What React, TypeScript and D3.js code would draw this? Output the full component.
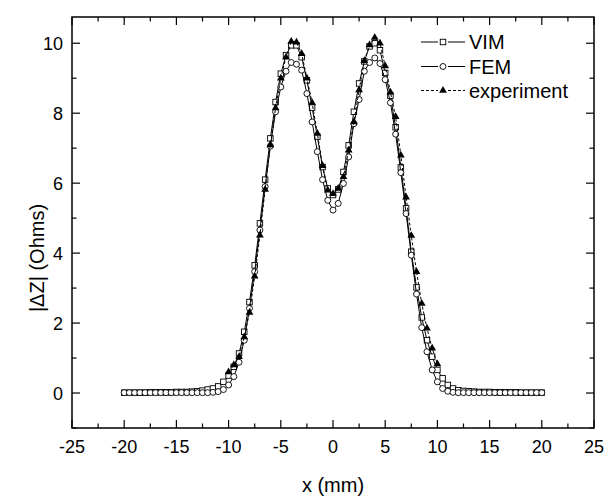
import React, { useEffect, useRef } from "react";
import * as d3 from "d3";

const xGrid = [-20,-19.5,-19,-18.5,-18,-17.5,-17,-16.5,-16,-15.5,-15,-14.5,-14,-13.5,-13,-12.5,-12,-11.5,-11,-10.5,-10,-9.5,-9,-8.5,-8,-7.5,-7,-6.5,-6,-5.5,-5,-4.5,-4,-3.5,-3,-2.5,-2,-1.5,-1,-0.5,0,0.5,1,1.5,2,2.5,3,3.5,4,4.5,5,5.5,6,6.5,7,7.5,8,8.5,9,9.5,10,10.5,11,11.5,12,12.5,13,13.5,14,14.5,15,15.5,16,16.5,17,17.5,18,18.5,19,19.5,20];

const vimValues = [
  0.01,0.01,0.01,0.01,0.01,0.02,0.02,0.02,0.02,0.02,0.03,0.03,0.03,
  0.04,0.05,0.07,0.10,0.13,0.19,0.32,0.50,0.75,1.13,1.75,2.60,3.65,4.85,6.10,7.28,8.32,9.13,9.66,9.94,9.94,9.60,8.94,8.16,7.33,6.46,5.85,
  5.66,
  5.82,6.32,7.08,8.04,8.85,9.48,9.91,10.0,9.80,9.15,8.50,7.60,6.45,5.28,4.04,3.02,2.16,1.51,1.04,0.66,0.42,0.23,0.13,0.08,0.06,0.05,0.04,
  0.03,0.03,0.03,0.02,0.02,0.02,0.02,0.02,0.01,0.01,0.01,0.01,0.01
];

const femValues = [
  0.01,0.01,0.01,0.01,0.01,0.01,0.01,0.01,0.01,0.01,0.01,0.01,0.01,
  0.01,0.01,0.01,0.01,0.02,0.04,0.10,0.23,0.47,0.88,1.51,2.42,3.47,4.66,5.90,7.06,8.04,8.75,9.20,9.45,9.40,9.23,8.56,7.75,6.90,6.10,5.51,
  5.23,
  5.42,5.99,6.75,7.70,8.39,9.20,9.45,9.58,9.42,8.96,8.30,7.40,6.30,5.13,3.94,2.83,1.87,1.18,0.66,0.32,0.13,0.05,0.02,0.01,0.01,0.01,0.01,
  0.01,0.01,0.01,0.01,0.01,0.01,0.01,0.01,0.01,0.01,0.01,0.01,0.01
];

const expX = [-10,-9.5,-9,-8.5,-8,-7.5,-7,-6.5,-6,-5.5,-5,-4.5,-4,-3.5,-3,-2.5,-2,-1.5,-1,-0.5,0,0.5,1,1.5,2,2.5,3,3.5,4,4.5,5,5.5,6,6.5,7,7.5,8,8.5,9,9.5,10];
const expValues = [0.6,0.8,1.04,1.6,2.3,3.34,4.51,5.82,7.09,8.15,9.0,9.6,10.05,10.03,9.7,9.0,8.3,7.42,6.5,5.8,5.7,5.85,6.18,6.94,7.75,8.66,9.5,9.95,10.16,10.0,9.35,8.6,7.9,6.8,5.6,4.5,3.47,2.56,1.85,1.28,0.83];

const xTicks = [-25,-20,-15,-10,-5,0,5,10,15,20,25];
const xMinor = [-22.5,-17.5,-12.5,-7.5,-2.5,2.5,7.5,12.5,17.5,22.5];
const yTicks = [0,2,4,6,8,10];
const yMinor = [-1,1,3,5,7,9];
const legendLabels = ["VIM","FEM","experiment"];

export default function App() {
  const ref = useRef<SVGSVGElement>(null);
  useEffect(() => {
    const svg = d3.select(ref.current);
    svg.selectAll("*").remove();
    const L = 72, R = 594, T = 17, B = 428;
    const x = d3.scaleLinear().domain([-25, 25]).range([L, R]);
    const y = d3.scaleLinear().domain([-1, 10.75]).range([B, T]);
    const font = "'Liberation Sans', Arial, sans-serif";
    const g = svg.append("g");

    // ticks
    const tk = g.append("g").attr("stroke", "#000").attr("stroke-width", 1.2);
    xTicks.forEach(v => {
      tk.append("line").attr("x1", x(v)).attr("x2", x(v)).attr("y1", B).attr("y2", B - 8);
      tk.append("line").attr("x1", x(v)).attr("x2", x(v)).attr("y1", T).attr("y2", T + 8);
    });
    xMinor.forEach(v => {
      tk.append("line").attr("x1", x(v)).attr("x2", x(v)).attr("y1", B).attr("y2", B - 4.5);
      tk.append("line").attr("x1", x(v)).attr("x2", x(v)).attr("y1", T).attr("y2", T + 4.5);
    });
    yTicks.forEach(v => {
      tk.append("line").attr("x1", L).attr("x2", L + 8).attr("y1", y(v)).attr("y2", y(v));
      tk.append("line").attr("x1", R).attr("x2", R - 8).attr("y1", y(v)).attr("y2", y(v));
    });
    yMinor.forEach(v => {
      tk.append("line").attr("x1", L).attr("x2", L + 4.5).attr("y1", y(v)).attr("y2", y(v));
      tk.append("line").attr("x1", R).attr("x2", R - 4.5).attr("y1", y(v)).attr("y2", y(v));
    });
    g.append("rect").attr("x", L).attr("y", T).attr("width", R - L).attr("height", B - T)
      .attr("fill", "none").attr("stroke", "#000").attr("stroke-width", 1.5);

    // tick labels
    xTicks.forEach(v => {
      g.append("text").attr("x", x(v)).attr("y", 453).attr("text-anchor", "middle")
        .attr("font-family", font).attr("font-size", 18).text(String(v));
    });
    yTicks.forEach(v => {
      g.append("text").attr("x", 63).attr("y", y(v) + 6.5).attr("text-anchor", "end")
        .attr("font-family", font).attr("font-size", 18).text(String(v));
    });
    g.append("text").attr("x", 333).attr("y", 492).attr("text-anchor", "middle")
      .attr("font-family", font).attr("font-size", 20).text("x (mm)");
    g.append("text").attr("transform", "translate(44,258) rotate(-90)").attr("text-anchor", "middle")
      .attr("font-family", font).attr("font-size", 20).text("|\u0394Z| (Ohms)");

    const line = d3.line<[number, number]>().x(d => x(d[0])).y(d => y(d[1]));
    const vim: [number, number][] = xGrid.map((v, i) => [v, vimValues[i]]);
    const fem: [number, number][] = xGrid.map((v, i) => [v, femValues[i]]);
    const exp: [number, number][] = expX.map((v, i) => [v, expValues[i]]);

    const sq = 5.5;
    const tri = d3.symbol().type(d3.symbolTriangle).size(26)();

    g.append("path").attr("d", line(vim)).attr("fill", "none").attr("stroke", "#000").attr("stroke-width", 1);
    g.selectAll(".sq").data(vim).enter().append("rect").attr("x", d => x(d[0]) - sq / 2).attr("y", d => y(d[1]) - sq / 2)
      .attr("width", sq).attr("height", sq).attr("fill", "#fff").attr("stroke", "#000").attr("stroke-width", 0.9);

    g.append("path").attr("d", line(fem)).attr("fill", "none").attr("stroke", "#000").attr("stroke-width", 1);
    g.selectAll(".ci").data(fem).enter().append("circle").attr("cx", d => x(d[0])).attr("cy", d => y(d[1]))
      .attr("r", 3).attr("fill", "#fff").attr("stroke", "#000").attr("stroke-width", 0.9);

    g.append("path").attr("d", line(exp)).attr("fill", "none").attr("stroke", "#000").attr("stroke-width", 1)
      .attr("stroke-dasharray", "3,2");
    g.selectAll(".tr").data(exp).enter().append("path").attr("d", tri)
      .attr("transform", d => `translate(${x(d[0])},${y(d[1])})`).attr("fill", "#000");

    // legend
    const rows = [42, 66.5, 90.5];
    legendLabels.forEach((lab, i) => {
      const yy = rows[i];
      const ln = g.append("g").attr("stroke", "#000").attr("stroke-width", 1);
      if (i === 2) ln.attr("stroke-dasharray", "3,2");
      ln.append("line").attr("x1", 421).attr("x2", 438).attr("y1", yy).attr("y2", yy);
      ln.append("line").attr("x1", 448).attr("x2", 465).attr("y1", yy).attr("y2", yy);
      if (i === 0) g.append("rect").attr("x", 443 - sq / 2).attr("y", yy - sq / 2).attr("width", sq).attr("height", sq)
        .attr("fill", "#fff").attr("stroke", "#000").attr("stroke-width", 0.9);
      if (i === 1) g.append("circle").attr("cx", 443).attr("cy", yy).attr("r", 3).attr("fill", "#fff").attr("stroke", "#000").attr("stroke-width", 0.9);
      if (i === 2) g.append("path").attr("d", tri).attr("transform", `translate(443,${yy})`).attr("fill", "#000");
      g.append("text").attr("x", 469).attr("y", yy + 7).attr("font-family", font).attr("font-size", 20).text(lab);
    });
  }, []);
  return (
    <svg ref={ref} width={613} height={500} style={{ position: "absolute", left: 0, top: 0, background: "#fff" }} />
  );
}
